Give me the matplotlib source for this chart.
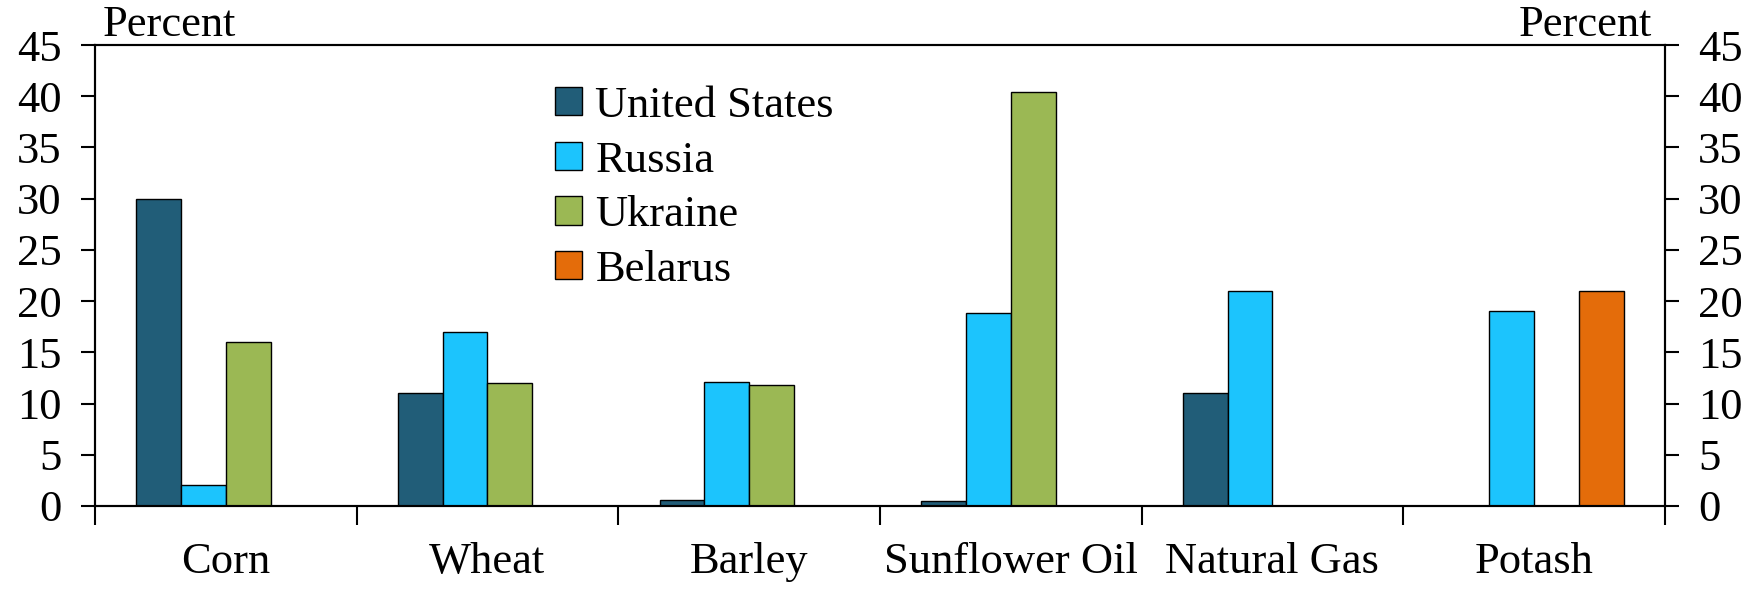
import matplotlib.pyplot as plt
import numpy as np

plt.rcParams['font.family'] = ['Liberation Serif', 'DejaVu Serif']

categories = ["Corn", "Wheat", "Barley", "Sunflower Oil", "Natural Gas", "Potash"]
countries = ["United States", "Russia", "Ukraine", "Belarus"]
us = [30, 11, 0.6, 0.5, 11, np.nan]
russia = [2, 17, 12.1, 18.8, 21, 19]
ukraine = [16, 12, 11.8, 40.4, np.nan, np.nan]
belarus = [0, 0, 0, 0, np.nan, 21]
colors = ["#215d78", "#1cc4fd", "#9bb854", "#e46c0a"]

fig = plt.figure(figsize=(17.52, 5.90), dpi=100)
ax = fig.add_axes([0.0542, 0.1424, 0.8961, 0.7813])

x = np.arange(len(categories))
w = 0.171
for i, (vals, name, c) in enumerate(zip([us, russia, ukraine, belarus], countries, colors)):
    ax.bar(x + (i - 1.5) * w, vals, width=w, color=c, edgecolor="black",
           linewidth=1.0, label=name)

ax.set_xlim(-0.5, len(categories) - 0.5)
ax.set_ylim(0, 45)
ax.set_yticks(np.arange(0, 46, 5))

# category boundaries as ticks, names as minor labels in the middle
ax.set_xticks(np.arange(-0.5, len(categories), 1.0))
ax.set_xticklabels([])
ax.set_xticks(x, minor=True)
ax.set_xticklabels(categories, minor=True)
ax.tick_params(axis="x", which="major", direction="out", length=14, width=1.5)
ax.tick_params(axis="x", which="minor", length=0, pad=26, labelsize=32)
ax.tick_params(axis="y", direction="out", length=10, width=1.5, labelsize=32, pad=14)

ax2 = ax.twinx()
ax2.set_ylim(0, 45)
ax2.set_yticks(np.arange(0, 46, 5))
ax2.tick_params(axis="y", direction="out", length=10, width=1.5, labelsize=32, pad=14)

for a in (ax, ax2):
    for s in a.spines.values():
        s.set_linewidth(1.5)

ax.text(0.005, 1.0, "Percent", transform=ax.transAxes, fontsize=32,
        ha="left", va="bottom")
ax.text(0.992, 1.0, "Percent", transform=ax.transAxes, fontsize=32,
        ha="right", va="bottom")

ax.legend(loc="upper left", bbox_to_anchor=(0.282, 0.95), frameon=False,
          fontsize=32, handlelength=0.6, handleheight=0.6, handletextpad=0.3,
          labelspacing=0.33, borderaxespad=0)

fig.savefig("out.png", dpi=100)
